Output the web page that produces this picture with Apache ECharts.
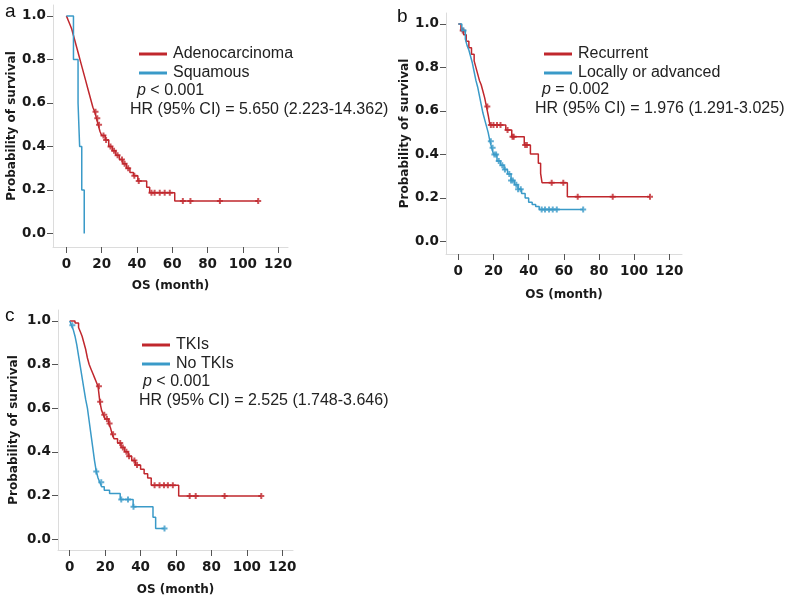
<!DOCTYPE html>
<html lang="en">
<head>
    <meta charset="UTF-8">
    <title>Kaplan-Meier OS</title>
    <script src="https://cdn.jsdelivr.net/npm/echarts@6/dist/echarts.min.js"></script>
    <style>
        body { margin: 0; background: #fff; }
        #chart { width: 787px; height: 600px; }
    </style>
</head>
<body>
<div id="chart"></div>
<script>
    // ---- data (months, survival probability) ----
    // panel a
    var adenoT = [0, 1, 2, 3, 4, 5, 6, 7, 8, 9, 10, 11, 12, 13, 14, 15, 16, 17, 18, 19, 20, 22, 24, 26, 28, 30, 32, 34, 36, 38, 40.5, 45.5, 47.2, 61.4];
    var adenoS = [1.0, 0.98, 0.96, 0.94, 0.91, 0.88, 0.85, 0.82, 0.79, 0.76, 0.73, 0.70, 0.67, 0.64, 0.61, 0.58, 0.56, 0.53, 0.50, 0.47, 0.45, 0.43, 0.40, 0.38, 0.36, 0.34, 0.32, 0.30, 0.28, 0.265, 0.241, 0.212, 0.187, 0.149];
    var adenoEnd = 108.7;
    var adenoCens = [16.5, 17.5, 18.5, 21, 22.5, 25, 27, 29, 31.5, 33, 35, 38.5, 41, 48.2, 50, 52.9, 55.7, 58.6, 66, 70.3, 87, 108.7];

    var squamT = [0, 4, 6.6, 7.5, 8.7, 10.1];
    var squamS = [1.0, 0.8, 0.6, 0.4, 0.2, 0.0];
    var squamEnd = 10.1;
    var squamCens = [];

    // panel b
    var recurT = [0, 1.5, 3, 4.5, 6, 7.5, 9, 10, 11, 12, 13, 14, 15, 16, 17, 18, 27, 30.4, 37.5, 41, 45.5, 46.8, 47.6, 62];
    var recurS = [1.0, 0.97, 0.95, 0.92, 0.89, 0.86, 0.83, 0.80, 0.77, 0.74, 0.72, 0.69, 0.66, 0.62, 0.58, 0.535, 0.512, 0.481, 0.443, 0.402, 0.359, 0.313, 0.27, 0.205];
    var recurEnd = 109;
    var recurCens = [2.5, 16.5, 18.5, 20, 22, 24, 28, 30.8, 31.5, 38, 39, 53.1, 59.7, 67.9, 87.8, 109];

    var localT = [0, 2, 4, 5, 6, 7, 8, 9, 10, 11, 12, 13, 14, 15, 16, 17, 18, 19, 20, 22, 24, 26, 28, 30, 32, 34, 36, 38, 40, 42, 44, 46];
    var localS = [1.0, 0.97, 0.93, 0.90, 0.88, 0.85, 0.82, 0.78, 0.74, 0.71, 0.67, 0.63, 0.59, 0.56, 0.53, 0.50, 0.46, 0.43, 0.40, 0.37, 0.35, 0.33, 0.31, 0.28, 0.26, 0.24, 0.22, 0.20, 0.18, 0.17, 0.16, 0.147];
    var localEnd = 71;
    var localCens = [3, 18.5, 19.5, 20.5, 21.5, 23, 25, 26.5, 29, 30, 31, 33, 34, 35.5, 47.4, 49.3, 51.6, 53.7, 56, 71];

    // panel c
    var tkiT = [0, 3, 5, 6, 7, 8, 9, 10, 11, 12, 13, 14, 15, 16, 17, 18, 19, 20, 22, 23, 24, 25, 27, 29, 31, 33, 35, 37, 40, 42, 44, 46, 61.5];
    var tkiS = [1.0, 0.99, 0.97, 0.95, 0.93, 0.90, 0.87, 0.83, 0.80, 0.78, 0.76, 0.74, 0.72, 0.70, 0.63, 0.59, 0.57, 0.55, 0.53, 0.51, 0.48, 0.46, 0.44, 0.42, 0.40, 0.38, 0.36, 0.34, 0.32, 0.30, 0.28, 0.247, 0.198];
    var tkiEnd = 108.1;
    var tkiCens = [16.5, 17.2, 19.5, 21, 22.5, 24.5, 28.5, 30, 32, 33.5, 36.5, 38, 47.9, 50.7, 53.2, 55.4, 58.2, 67.7, 71.1, 87.4, 108.1];

    var notkiT = [0, 1, 2, 3, 4, 5, 6, 7, 8, 9, 10, 11, 12, 13, 14, 15, 16, 17, 18, 19.5, 22.5, 28.5, 35.8, 47, 48.5];
    var notkiS = [1.0, 0.98, 0.96, 0.93, 0.89, 0.84, 0.79, 0.74, 0.69, 0.64, 0.60, 0.54, 0.48, 0.42, 0.36, 0.31, 0.28, 0.26, 0.24, 0.224, 0.209, 0.182, 0.148, 0.10, 0.049];
    var notkiEnd = 53.5;
    var notkiCens = [1.5, 15, 17.8, 29.1, 32.9, 36, 53.5];

    var xTicks = [0, 20, 40, 60, 80, 100, 120];
    var yTicks = [0, 0.2, 0.4, 0.6, 0.8, 1.0];

    var RED = '#c0272d';
    var BLUE = '#3a9ac8';

    // survival value at time t from a step curve
    function survAt(T, S, t) {
        var v = S[0];
        for (var k = 0; k < T.length; k++) {
            if (T[k] <= t) v = S[k];
        }
        return v;
    }

    function stepData(T, S, end) {
        var d = [];
        for (var k = 0; k < T.length; k++) d.push([T[k], S[k]]);
        d.push([end, S[S.length - 1]]);
        return d;
    }

    function censData(T, S, cens) {
        return cens.map(function (t) { return [t, survAt(T, S, t)]; });
    }

    var chart = echarts.init(document.getElementById('chart'));

    var grids = [
        {left: 53, top: 5, width: 235, height: 242},
        {left: 446, top: 13, width: 236, height: 241},
        {left: 58, top: 310, width: 235, height: 240}
    ];
    var xRange = [[-7.6, 125.6], [-7, 127.2], [-6.6, 126]];
    var yRange = [[-0.062, 1.05], [-0.058, 1.05], [-0.05, 1.05]];
    var yNameGap = [34, 35, 38];
    var xNameGap = [33, 35, 34];

    var labelFont = {color: '#1a1a1a', fontFamily: 'DejaVu Sans', fontWeight: 'bold', fontSize: 13.5};
    var nameFont = {color: '#1a1a1a', fontFamily: 'DejaVu Sans', fontWeight: 'bold', fontSize: 12};

    var xAxes = [], yAxes = [];
    for (var g = 0; g < 3; g++) {
        xAxes.push({
            gridIndex: g, type: 'value', min: xRange[g][0], max: xRange[g][1],
            name: 'OS (month)', nameLocation: 'middle', nameGap: xNameGap[g], nameTextStyle: nameFont,
            axisLine: {onZero: false, lineStyle: {color: '#dcdcdc', width: 1}},
            axisTick: {customValues: xTicks, length: 6, lineStyle: {color: '#555'}},
            axisLabel: Object.assign({customValues: xTicks, margin: 10}, labelFont),
            splitLine: {show: false}
        });
        yAxes.push({
            gridIndex: g, type: 'value', min: yRange[g][0], max: yRange[g][1],
            name: 'Probability of survival', nameLocation: 'middle', nameGap: yNameGap[g], nameTextStyle: nameFont,
            axisLine: {show: true, onZero: false, lineStyle: {color: '#dcdcdc', width: 1}},
            axisTick: {show: true, customValues: yTicks, length: 6, lineStyle: {color: '#555'}},
            axisLabel: Object.assign({
                customValues: yTicks, margin: 7,
                formatter: function (v) { return v.toFixed(1); }
            }, labelFont),
            splitLine: {show: false}
        });
    }

    function kmSeries(name, g, T, S, end, cens, color) {
        return [{
            name: name, type: 'line', step: 'end', xAxisIndex: g, yAxisIndex: g,
            data: stepData(T, S, end), showSymbol: false, silent: true,
            lineStyle: {color: color, width: 1.5}, itemStyle: {color: color}
        }, {
            name: name + ' censored', type: 'scatter', xAxisIndex: g, yAxisIndex: g,
            data: censData(T, S, cens), silent: true,
            symbol: 'path://M2,0h2v2h2v2h-2v2h-2v-2h-2v-2h2z', symbolSize: 6,
            itemStyle: {color: color}
        }];
    }

    var series = [].concat(
        kmSeries('Adenocarcinoma', 0, adenoT, adenoS, adenoEnd, adenoCens, RED),
        kmSeries('Squamous', 0, squamT, squamS, squamEnd, squamCens, BLUE),
        kmSeries('Recurrent', 1, recurT, recurS, recurEnd, recurCens, RED),
        kmSeries('Locally or advanced', 1, localT, localS, localEnd, localCens, BLUE),
        kmSeries('TKIs', 2, tkiT, tkiS, tkiEnd, tkiCens, RED),
        kmSeries('No TKIs', 2, notkiT, notkiS, notkiEnd, notkiCens, BLUE)
    );

    function legendAt(left, top, names) {
        return {
            left: left, top: top, orient: 'vertical', icon: 'rect', padding: 0,
            itemWidth: 28, itemHeight: 3, itemGap: 3, selectedMode: false,
            data: names,
            textStyle: {color: '#222', fontFamily: 'Liberation Sans', fontSize: 16, padding: [0, 0, 0, 1]}
        };
    }

    var textFont = {fontFamily: 'Liberation Sans', fontSize: 16, fill: '#222'};
    function note(x, y, text) {
        return {
            type: 'text', left: x, top: y - 7,
            style: Object.assign({text: text, rich: {i: {fontStyle: 'italic', fontFamily: 'Liberation Sans', fontSize: 16, fill: '#222'}}}, textFont)
        };
    }
    function panelLabel(x, y, text) {
        return {type: 'text', left: x, top: y, style: {text: text, fontFamily: 'Liberation Sans', fontSize: 19, fill: '#111'}};
    }

    var option = {
        animation: false,
        grid: grids,
        xAxis: xAxes,
        yAxis: yAxes,
        legend: [
            legendAt(139, 46, ['Adenocarcinoma', 'Squamous']),
            legendAt(544, 46, ['Recurrent', 'Locally or advanced']),
            legendAt(142, 337, ['TKIs', 'No TKIs'])
        ],
        graphic: [
            panelLabel(5, 2, 'a'),
            panelLabel(397, 7, 'b'),
            panelLabel(5, 306, 'c'),
            note(137, 90, '{i|p} < 0.001'),
            note(130, 109, 'HR (95% CI) = 5.650 (2.223-14.362)'),
            note(542, 89, '{i|p} = 0.002'),
            note(535, 108, 'HR (95% CI) = 1.976 (1.291-3.025)'),
            note(143, 381, '{i|p} < 0.001'),
            note(139, 400, 'HR (95% CI) = 2.525 (1.748-3.646)')
        ],
        series: series
    };

    chart.setOption(option);
</script>
</body>
</html>
